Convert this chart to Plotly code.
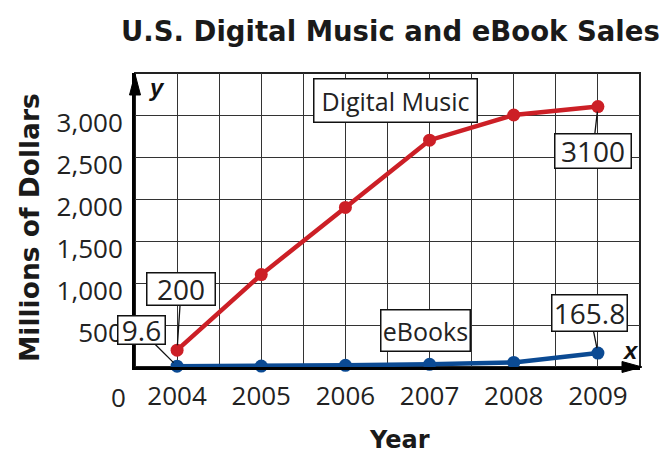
import plotly.graph_objects as go

years = [2004, 2005, 2006, 2007, 2008, 2009]
digital_music = [200, 1100, 1900, 2700, 3000, 3100]
ebooks = [9.6, 11, 20, 32, 54, 165.8]
y_ticks = [500, 1000, 1500, 2000, 2500, 3000]
y_tick_labels = ["500", "1,000", "1,500", "2,000", "2,500", "3,000"]
x_minor = [2004.5, 2005.5, 2006.5, 2007.5, 2008.5]

RED = "#cc1f26"
BLUE = "#0b4a93"
GRID = "#333333"
TXT = "#222222"

W, H = 667, 457
L, R, T, B = 135, 27, 73, 90
PW, PH = W - L - R, H - T - B

def px(x):
    return (x - L) / PW

def py(y):
    return (H - B - y) / PH

fig = go.Figure()
fig.add_trace(go.Scatter(x=years, y=digital_music, mode="lines+markers",
                         line=dict(color=RED, width=4.5),
                         marker=dict(color=RED, size=13),
                         cliponaxis=False, showlegend=False))
fig.add_trace(go.Scatter(x=years, y=ebooks, mode="lines+markers",
                         line=dict(color=BLUE, width=4.5),
                         marker=dict(color=BLUE, size=13),
                         cliponaxis=False, showlegend=False))

tick_font = dict(family="Open Sans", size=26, color=TXT)

fig.update_xaxes(range=[2003.5, 2009.5], tickmode="array", tickvals=years,
                 ticktext=[str(y) for y in years], tickfont=tick_font,
                 showgrid=True, gridcolor=GRID, gridwidth=1.4,
                 minor=dict(tickmode="array", tickvals=x_minor, showgrid=True,
                            gridcolor=GRID, gridwidth=1.4),
                 ticks="outside", ticklen=4, tickcolor="rgba(0,0,0,0)",
                 showline=True, linecolor="black", linewidth=3,
                 zeroline=False, fixedrange=True)
fig.update_yaxes(range=[0, 3500], tickmode="array", tickvals=y_ticks,
                 ticktext=y_tick_labels, tickfont=tick_font,
                 showgrid=True, gridcolor=GRID, gridwidth=1.4,
                 ticks="outside", ticklen=4, tickcolor="rgba(0,0,0,0)",
                 ticklabelshift=8,
                 showline=True, linecolor="black", linewidth=3,
                 zeroline=False, fixedrange=True)

shapes = [
    dict(type="rect", xref="paper", yref="paper", x0=0, x1=1, y0=0, y1=1,
         line=dict(color="#222", width=2), layer="below"),
    # y-axis arrowhead
    dict(type="path", xref="paper", yref="paper",
         path=f"M {px(135)} {py(74)} L {px(129.5)} {py(95)} L {px(140.5)} {py(95)} Z",
         fillcolor="black", line=dict(color="black", width=1)),
    # x-axis arrowhead
    dict(type="path", xref="paper", yref="paper",
         path=f"M {px(642)} {py(367)} L {px(622)} {py(361.5)} L {px(622)} {py(372.5)} Z",
         fillcolor="black", line=dict(color="black", width=1)),
]

ann = []
# titles
ann.append(dict(text="<b>U.S. Digital Music and eBook Sales</b>", xref="paper", yref="paper",
                x=px(390), y=py(31), showarrow=False, xanchor="center", yanchor="middle",
                font=dict(family="DejaVu Sans", size=27.5, color="#1a1a1a")))
ann.append(dict(text="<b>Year</b>", xref="paper", yref="paper",
                x=px(399), y=py(440), showarrow=False, xanchor="center", yanchor="middle",
                font=dict(family="DejaVu Sans", size=24, color="#1a1a1a")))
ann.append(dict(text="<b>Millions of Dollars</b>", xref="paper", yref="paper",
                x=px(29), y=py(228), showarrow=False, xanchor="center", yanchor="middle",
                textangle=-90,
                font=dict(family="DejaVu Sans", size=26.5, color="#1a1a1a")))
ann.append(dict(text="0", xref="paper", yref="paper", x=px(118), y=py(397),
                showarrow=False, xanchor="center", yanchor="middle", font=tick_font))
ann.append(dict(text="<b><i>y</i></b>", xref="paper", yref="paper", x=px(157), y=py(88),
                showarrow=False, xanchor="center", yanchor="middle",
                font=dict(family="Liberation Sans", size=24, color="#111")))
ann.append(dict(text="<b><i>x</i></b>", xref="paper", yref="paper", x=px(630), y=py(350),
                showarrow=False, xanchor="center", yanchor="middle",
                font=dict(family="Liberation Sans", size=24, color="#111")))

box = dict(bgcolor="white", bordercolor="#111", borderwidth=1.5, borderpad=0,
           arrowcolor="#111", arrowwidth=1.3, arrowhead=0, standoff=5)
num_font = dict(family="Open Sans", size=28, color=TXT)
word_font = dict(family="Open Sans", size=25, color=TXT)

# callouts with arrows: (text, x, y, ax, ay, w, h)
callouts = [
    ("200", years[0], digital_music[0], 4, -61, 67, 31),
    ("9.6", years[0], ebooks[0], -36, -36, 46, 27),
    ("3100", years[-1], digital_music[-1], -5, 44, 75, 33),
    ("165.8", years[-1], ebooks[-1], -8, -40, 74, 35),
]
for t, x, y, ax, ay, w, h in callouts:
    ann.append(dict(text=t, x=x, y=y, xref="x", yref="y", ax=ax, ay=ay,
                    axref="pixel", ayref="pixel", showarrow=True, width=w, height=h,
                    font=num_font, **box))

for t, cx, cy, w, h in [("Digital Music", 395, 100, 162, 42), ("eBooks", 425, 330, 88, 40)]:
    ann.append(dict(text=t, xref="paper", yref="paper", x=px(cx), y=py(cy),
                    showarrow=False, width=w, height=h, xanchor="center", yanchor="middle",
                    bgcolor="white", bordercolor="#111", borderwidth=1.5, borderpad=0,
                    font=word_font))

fig.update_layout(width=W, height=H, margin=dict(l=L, r=R, t=T, b=B),
                  paper_bgcolor="white", plot_bgcolor="white",
                  shapes=shapes, annotations=ann, showlegend=False)

fig.write_html("out.html")
